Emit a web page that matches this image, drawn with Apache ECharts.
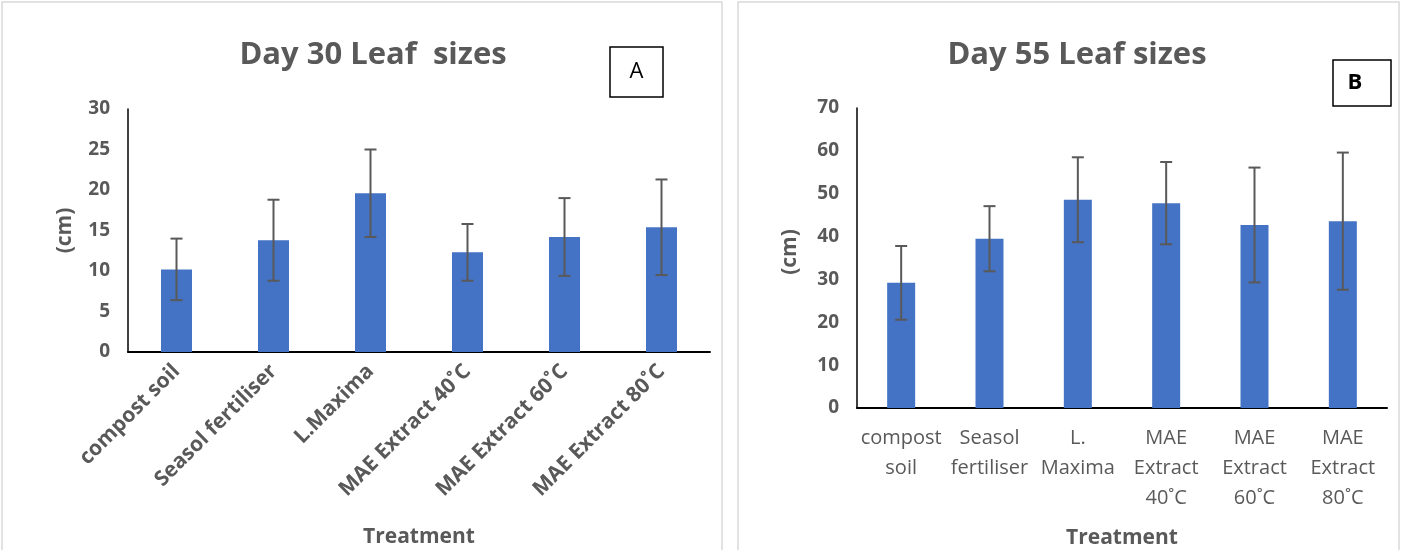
<!DOCTYPE html>
<html><head><meta charset="utf-8">
<script src="https://cdn.jsdelivr.net/npm/echarts@6/dist/echarts.min.js"></script>
<style>html,body{margin:0;padding:0;background:#fff}#c{width:1401px;height:550px}</style>
</head><body><div id="c"></div>
<script>
const categoriesA = ['compost soil','Seasol fertiliser','L.Maxima','MAE Extract 40˚C','MAE Extract 60˚C','MAE Extract 80˚C'];
const categoriesB = ['compost\nsoil','Seasol\nfertiliser','L.\nMaxima','MAE\nExtract\n40˚C','MAE\nExtract\n60˚C','MAE\nExtract\n80˚C'];
const day30Mean = [10.2, 13.8, 19.6, 12.3, 14.2, 15.4];
const day30Err  = [3.8, 5.0, 5.4, 3.5, 4.8, 5.9];
const day55Mean = [29.2, 39.5, 48.6, 47.8, 42.7, 43.6];
const day55Err  = [8.6, 7.6, 9.9, 9.6, 13.4, 16.0];
const ticksA = [0,5,10,15,20,25,30];
const ticksB = [0,10,20,30,40,50,60,70];

const FONT = '"Open Sans",sans-serif';
const GREY = '#595959';

function errSeries(idx, mean, err) {
  return {
    type: 'custom', xAxisIndex: idx, yAxisIndex: idx, z: 5,
    data: mean.map((m, i) => [i, m - err[i], m + err[i]]),
    renderItem: function (params, api) {
      const lo = api.coord([api.value(0), api.value(1)]);
      const hi = api.coord([api.value(0), api.value(2)]);
      const w = 6;
      const st = {stroke: GREY, lineWidth: 2};
      return {type: 'group', children: [
        {type: 'line', shape: {x1: hi[0], y1: hi[1], x2: lo[0], y2: lo[1]}, style: st},
        {type: 'line', shape: {x1: hi[0]-w, y1: hi[1], x2: hi[0]+w, y2: hi[1]}, style: st},
        {type: 'line', shape: {x1: lo[0]-w, y1: lo[1], x2: lo[0]+w, y2: lo[1]}, style: st}
      ]};
    }
  };
}

const chart = echarts.init(document.getElementById('c'));
chart.setOption({
  animation: false,
  textStyle: {fontFamily: FONT},
  title: [
    {text: 'Day 30 Leaf  sizes', left: 368, top: 35, textAlign: 'center',
     textStyle: {fontFamily: FONT, fontSize: 31, fontWeight: 'bold', color: GREY}},
    {text: 'Day 55 Leaf sizes', left: 1072, top: 35, textAlign: 'center',
     textStyle: {fontFamily: FONT, fontSize: 31, fontWeight: 'bold', color: GREY}}
  ],
  graphic: [
    {type: 'rect', shape: {x: 2, y: 2, width: 720, height: 560}, style: {fill: 'none', stroke: '#d9d9d9', lineWidth: 1.5}, silent: true},
    {type: 'rect', shape: {x: 738, y: 2, width: 661, height: 560}, style: {fill: 'none', stroke: '#d9d9d9', lineWidth: 1.5}, silent: true},
    {type: 'rect', shape: {x: 610, y: 47, width: 53, height: 50}, style: {fill: '#fff', stroke: '#000', lineWidth: 1.5}},
    {type: 'text', x: 636.5, y: 72, style: {text: 'A', fontFamily: FONT, fontSize: 22, fill: '#000', align: 'center', verticalAlign: 'middle'}},
    {type: 'rect', shape: {x: 1333, y: 60, width: 58, height: 46}, style: {fill: '#fff', stroke: '#000', lineWidth: 1.5}},
    {type: 'text', x: 1355, y: 83, style: {text: 'B', fontFamily: FONT, fontSize: 22, fontWeight: 'bold', fill: '#000', align: 'center', verticalAlign: 'middle'}}
  ],
  grid: [
    {left: 128, top: 109, width: 582, height: 243, outerBoundsMode: 'none', containLabel: false},
    {left: 857, top: 108, width: 530, height: 300, outerBoundsMode: 'none', containLabel: false}
  ],
  xAxis: [
    {type: 'category', gridIndex: 0, data: categoriesA,
     axisLine: {lineStyle: {color: '#000', width: 2}}, axisTick: {show: false},
     axisLabel: {rotate: 45, interval: 0, margin: 16, fontFamily: FONT, fontSize: 21, fontWeight: 'bold', color: GREY},
     name: 'Treatment', nameLocation: 'middle', nameGap: 175,
     nameTextStyle: {fontFamily: FONT, fontSize: 21, fontWeight: 'bold', color: GREY}},
    {type: 'category', gridIndex: 1, data: categoriesB,
     axisLine: {lineStyle: {color: '#000', width: 2}}, axisTick: {show: false},
     axisLabel: {interval: 0, margin: 15, lineHeight: 30, fontFamily: FONT, fontSize: 20, color: GREY},
     name: 'Treatment', nameLocation: 'middle', nameGap: 120,
     nameTextStyle: {fontFamily: FONT, fontSize: 21, fontWeight: 'bold', color: GREY}}
  ],
  yAxis: [
    {type: 'value', gridIndex: 0, min: 0, max: 30, interval: 5,
     axisLine: {show: true, lineStyle: {color: '#000', width: 1.5}}, axisTick: {show: false}, splitLine: {show: false},
     axisLabel: {margin: 18, fontFamily: FONT, fontSize: 19, fontWeight: 'bold', color: GREY,
       formatter: v => ticksA.includes(v) ? String(v) : ''},
     name: '(cm)', nameLocation: 'middle', nameGap: 52,
     nameTextStyle: {fontFamily: FONT, fontSize: 21, fontWeight: 'bold', color: GREY}},
    {type: 'value', gridIndex: 1, min: 0, max: 70, interval: 10,
     axisLine: {show: true, lineStyle: {color: '#000', width: 1.5}}, axisTick: {show: false}, splitLine: {show: false},
     axisLabel: {margin: 18, fontFamily: FONT, fontSize: 19, fontWeight: 'bold', color: GREY,
       formatter: v => ticksB.includes(v) ? String(v) : ''},
     name: '(cm)', nameLocation: 'middle', nameGap: 56,
     nameTextStyle: {fontFamily: FONT, fontSize: 21, fontWeight: 'bold', color: GREY, padding: [0, 0, 0, 12]}}
  ],
  series: [
    {type: 'bar', xAxisIndex: 0, yAxisIndex: 0, data: day30Mean, barWidth: 31,
     itemStyle: {color: '#4472C4'}},
    errSeries(0, day30Mean, day30Err),
    {type: 'bar', xAxisIndex: 1, yAxisIndex: 1, data: day55Mean, barWidth: 28,
     itemStyle: {color: '#4472C4'}},
    errSeries(1, day55Mean, day55Err)
  ]
});
</script></body></html>
